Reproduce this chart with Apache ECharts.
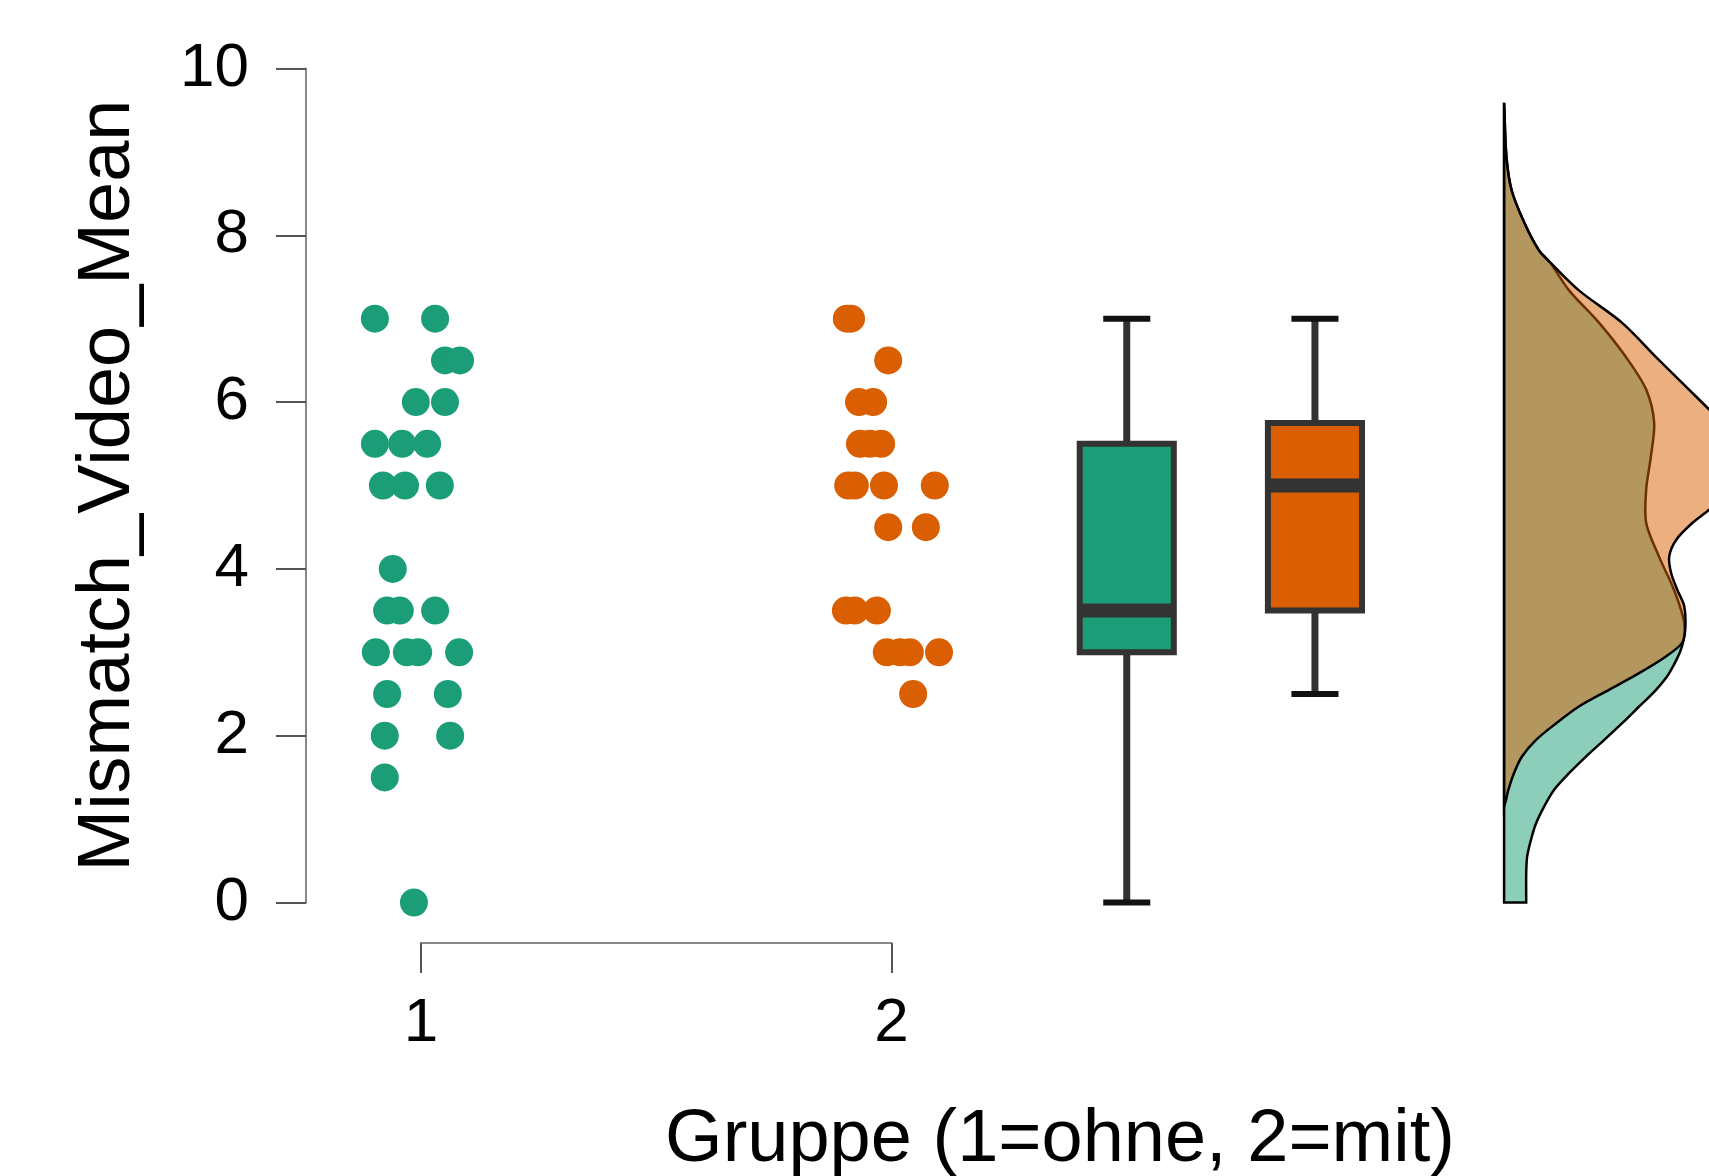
<!DOCTYPE html>
<html>
<head>
<meta charset="utf-8">
<script src="https://cdn.jsdelivr.net/npm/echarts@6/dist/echarts.min.js"></script>
<style>
  html, body { margin: 0; padding: 0; background: #fff; }
  #chart { width: 1709px; height: 1176px; }
</style>
</head>
<body>
<div id="chart"></div>
<script>
// Gruppe 1 (ohne) - Einzelwerte und horizontale Streuung
const g1Values = [7, 7, 6.5, 6.5, 6, 6, 5.5, 5.5, 5.5, 5, 5, 5, 4, 3.5, 3.5, 3.5, 3, 3, 3, 3, 2.5, 2.5, 2, 2, 1.5, 0]
const g1Jitter = [-0.098, 0.030, 0.051, 0.083, -0.011, 0.051, -0.098, -0.040, 0.013, -0.081, -0.034, 0.040, -0.060,
  -0.072, -0.045, 0.030, -0.096, -0.030, -0.006, 0.081, -0.072, 0.057, -0.077, 0.062, -0.077, -0.015]

// Gruppe 2 (mit)
const g2Values = [7, 7, 6.5, 6, 6, 5.5, 5.5, 5.5, 5, 5, 5, 5, 4.5, 4.5, 3.5, 3.5, 3.5, 3, 3, 3, 3, 2.5]
const g2Jitter = [-0.095, -0.086, -0.007, -0.069, -0.039, -0.067, -0.046, -0.022, -0.092, -0.078, -0.016, 0.092,
  -0.007, 0.073, -0.097, -0.078, -0.031, -0.010, 0.018, 0.039, 0.101, 0.046]

// Boxplot: [min, Q1, median, Q3, max]
const box1Stats = [0, 3, 3.5, 5.5, 7]
const box2Stats = [2.5, 3.5, 5, 5.75, 7]

// Dichte (halber Violin) - Werte und Dichte
const dens1Values = [0, 0.35, 0.55, 0.75, 0.95, 1.15, 1.35, 1.55, 1.75, 1.95, 2.15, 2.35, 2.55, 2.75, 3.07, 3.35,
  3.75, 4.15, 4.55, 4.95, 5.35, 5.75, 6.15, 6.54, 6.95, 7.34, 7.67, 7.82, 8.15, 8.54, 8.94, 9.59]
const dens1 = [0.047, 0.047, 0.049, 0.057, 0.068, 0.085, 0.106, 0.138, 0.174, 0.213, 0.251, 0.287, 0.323, 0.351,
  0.378, 0.383, 0.361, 0.329, 0.302, 0.302, 0.312, 0.319, 0.302, 0.259, 0.202, 0.138, 0.098, 0.074, 0.043, 0.016,
  0.005, 0]
const dens2Values = [1.15, 1.23, 1.35, 1.55, 1.75, 1.95, 2.15, 2.35, 2.55, 2.75, 2.95, 3.11, 3.27, 3.55, 3.75, 3.95,
  4.15, 4.35, 4.55, 4.71, 4.9, 5.1, 5.3, 5.5, 5.75, 5.91, 6.15, 6.54, 6.95, 7.34, 7.67, 7.82, 8.15, 8.54, 8.94, 9.59]
const dens2 = [0, 0.004, 0.009, 0.021, 0.038, 0.068, 0.111, 0.159, 0.223, 0.287, 0.344, 0.378, 0.385, 0.383, 0.368,
  0.355, 0.351, 0.366, 0.400, 0.436, 0.472, 0.506, 0.516, 0.502, 0.463, 0.436, 0.393, 0.323, 0.251, 0.159, 0.099,
  0.074, 0.043, 0.016, 0.005, 0]

const groupTicks = ['1', '2']
const yTicks = [0, 2, 4, 6, 8, 10]

// Farben
const green = '#1b9e77'
const orange = '#d95f02'
const font = "'Liberation Sans', Arial, sans-serif"

// Positionen auf der x-Achse
const box1X = 2.5
const box2X = 2.9
const densBase = 3.302
const boxWidth = 0.2
const capWidth = 0.1

const pointsOf = (group, values, jitter) => values.map((v, i) => [group + jitter[i], v])

// Boxplot zeichnen
const renderBox = (params, api) => {
  const x = api.value(0)
  const half = api.size([boxWidth, 0])[0] / 2
  const capHalf = api.size([capWidth, 0])[0] / 2
  const pLow = api.coord([x, api.value(1)])
  const pQ1 = api.coord([x, api.value(2)])
  const pMed = api.coord([x, api.value(3)])
  const pQ3 = api.coord([x, api.value(4)])
  const pHigh = api.coord([x, api.value(5)])
  const fill = params.dataIndex === 0 ? green : orange
  const stroke = { stroke: '#333', lineWidth: 7 }
  return {
    type: 'group',
    children: [
      { type: 'line', shape: { x1: pLow[0], y1: pLow[1], x2: pQ1[0], y2: pQ1[1] }, style: stroke },
      { type: 'line', shape: { x1: pQ3[0], y1: pQ3[1], x2: pHigh[0], y2: pHigh[1] }, style: stroke },
      { type: 'line', shape: { x1: pLow[0] - capHalf, y1: pLow[1], x2: pLow[0] + capHalf, y2: pLow[1] }, style: { stroke: '#111', lineWidth: 6 } },
      { type: 'line', shape: { x1: pHigh[0] - capHalf, y1: pHigh[1], x2: pHigh[0] + capHalf, y2: pHigh[1] }, style: { stroke: '#111', lineWidth: 6 } },
      { type: 'rect', shape: { x: pQ3[0] - half, y: pQ3[1], width: half * 2, height: pQ1[1] - pQ3[1] }, style: { fill: fill, stroke: '#333', lineWidth: 6 } },
      { type: 'line', shape: { x1: pMed[0] - half, y1: pMed[1], x2: pMed[0] + half, y2: pMed[1] }, style: { stroke: '#333', lineWidth: 14 } }
    ]
  }
}

// Dichte als Polygon von der Basislinie nach rechts
// (Eckpunkte doppelt, damit die Glättung die Ecken nicht abrundet)
const densityPolygon = (api, values, dens) => {
  const n = values.length
  const start = api.coord([densBase, values[0]])
  const first = api.coord([densBase + dens[0], values[0]])
  const end = api.coord([densBase, values[n - 1]])
  const pts = [start, start, first, first]
  for (let i = 1; i < n; i++) {
    pts.push(api.coord([densBase + dens[i], values[i]]))
  }
  pts.push(end, end)
  return pts
}

const renderDensity = (params, api) => {
  return {
    type: 'group',
    children: [
      {
        type: 'polygon',
        shape: { points: densityPolygon(api, dens1Values, dens1), smooth: 0.3 },
        style: { fill: 'rgba(27,158,119,0.5)', stroke: '#000', lineWidth: 2.5 }
      },
      {
        type: 'polygon',
        shape: { points: densityPolygon(api, dens2Values, dens2), smooth: 0.3 },
        style: { fill: 'rgba(217,95,2,0.5)', stroke: '#000', lineWidth: 2.5 }
      }
    ]
  }
}

const chart = echarts.init(document.getElementById('chart'))

const option = {
  animation: false,
  backgroundColor: '#fff',
  grid: [
    { left: 306, right: 0, top: 68.5, bottom: 273.5, containLabel: false, outerBoundsMode: 'none' },
    { left: 421, right: 817.5, top: 900, bottom: 233, containLabel: false, outerBoundsMode: 'none' }
  ],
  xAxis: [
    { type: 'value', gridIndex: 0, min: 0.75558, max: 3.73751, show: false },
    {
      type: 'value',
      gridIndex: 1,
      min: 1,
      max: 2,
      interval: 1,
      axisLine: { show: true, lineStyle: { color: '#888', width: 2 } },
      axisTick: { show: true, length: 30, lineStyle: { color: '#555', width: 2 } },
      axisLabel: {
        margin: 50,
        fontSize: 62,
        fontFamily: font,
        color: '#000',
        formatter: (v) => groupTicks[v - 1]
      },
      splitLine: { show: false }
    }
  ],
  yAxis: [
    {
      type: 'value',
      gridIndex: 0,
      min: yTicks[0],
      max: yTicks[yTicks.length - 1],
      interval: 2,
      name: 'Mismatch_Video_Mean',
      nameLocation: 'middle',
      nameGap: 160,
      nameTextStyle: { fontSize: 74, fontFamily: font, color: '#000' },
      axisLine: { show: true, lineStyle: { color: '#888', width: 2 } },
      axisTick: { show: true, length: 30, lineStyle: { color: '#555', width: 2 } },
      axisLabel: { margin: 57, fontSize: 62, fontFamily: font, color: '#000' },
      splitLine: { show: false }
    },
    { type: 'value', gridIndex: 1, show: false }
  ],
  graphic: [
    {
      type: 'text',
      x: 1060,
      y: 1141,
      style: {
        text: 'Gruppe (1=ohne, 2=mit)',
        fontSize: 74,
        fontFamily: font,
        fill: '#000',
        align: 'center',
        verticalAlign: 'middle'
      }
    }
  ],
  series: [
    {
      type: 'custom',
      xAxisIndex: 0,
      yAxisIndex: 0,
      renderItem: renderDensity,
      data: [0],
      z: 1
    },
    {
      type: 'scatter',
      xAxisIndex: 0,
      yAxisIndex: 0,
      symbolSize: 28,
      itemStyle: { color: green, opacity: 1 },
      data: pointsOf(1, g1Values, g1Jitter),
      z: 3
    },
    {
      type: 'scatter',
      xAxisIndex: 0,
      yAxisIndex: 0,
      symbolSize: 28,
      itemStyle: { color: orange, opacity: 1 },
      data: pointsOf(2, g2Values, g2Jitter),
      z: 3
    },
    {
      type: 'custom',
      xAxisIndex: 0,
      yAxisIndex: 0,
      renderItem: renderBox,
      data: [[box1X, ...box1Stats], [box2X, ...box2Stats]],
      z: 2
    }
  ]
}

chart.setOption(option)
</script>
</body>
</html>
